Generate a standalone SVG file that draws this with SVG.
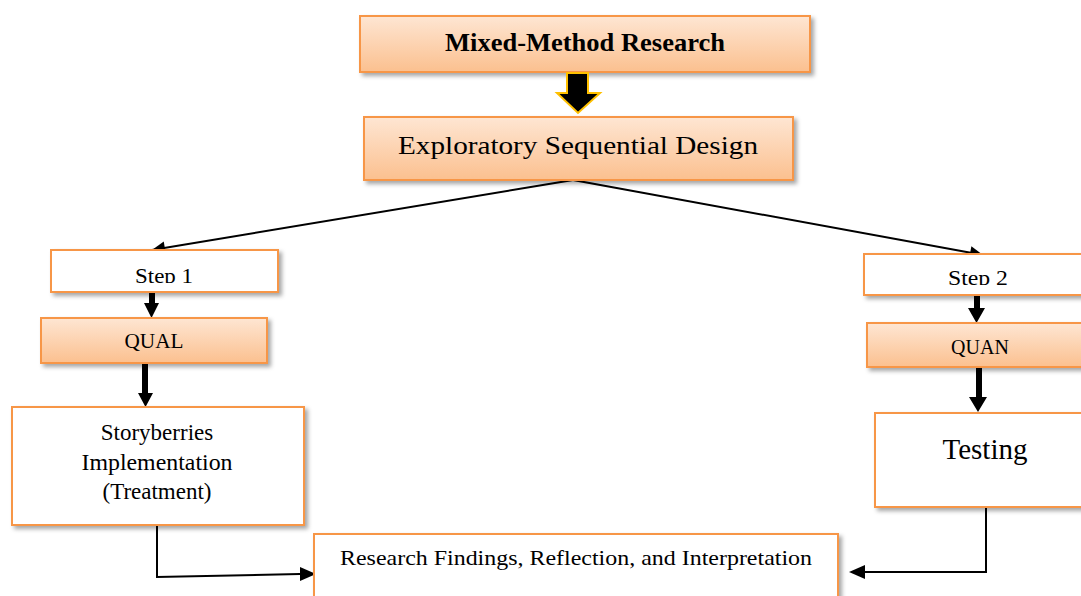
<svg xmlns="http://www.w3.org/2000/svg" width="1081" height="596" viewBox="0 0 1081 596">
<style>
.box{stroke:#F79646;stroke-width:2}
.orange{fill:url(#og)}
.white{fill:#ffffff}
.t{font-family:"Liberation Serif","Times New Roman",serif;fill:#000;text-anchor:middle}
.line{stroke:#000;stroke-width:2;fill:none}
.blk{fill:#000}
</style>
<defs>
<linearGradient id="og" x1="0" y1="0" x2="0" y2="1">
<stop offset="0" stop-color="#FEE6D3"/>
<stop offset="1" stop-color="#FBC08F"/>
</linearGradient>
<filter id="sh" x="-10%" y="-20%" width="125%" height="150%">
<feDropShadow dx="3" dy="3" stdDeviation="2" flood-color="#000" flood-opacity="0.35"/>
</filter>
<marker id="ahL" viewBox="0 0 10 10" refX="10" refY="5" markerWidth="17" markerHeight="13" markerUnits="userSpaceOnUse" orient="auto">
<path d="M0,0 L10,5 L0,10 z" fill="#000"/>
</marker>
<clipPath id="c1"><rect x="40" y="250" width="250" height="33"/></clipPath>
<clipPath id="c2"><rect x="860" y="254" width="221" height="31"/></clipPath>
</defs>

<g id="connectors">
<line class="line" x1="573" y1="180" x2="152" y2="250" marker-end="url(#ahL)"/>
<line class="line" x1="573" y1="180" x2="983" y2="255" marker-end="url(#ahL)"/>
<polygon class="blk" points="149,292 155,292 155,303 159,303 151.5,318 144,303 149,303"/>
<polygon class="blk" points="142,363 148,363 148,393 153,393 145.5,407 138,393 142,393"/>
<polygon class="blk" points="974,295 980,295 980,308 985,308 976.5,323 968,308 974,308"/>
<polygon class="blk" points="976,367 982,367 982,397 987,397 978,412 969,397 976,397"/>
<polyline class="line" points="157,525 157,577 300,574"/>
<polygon class="blk" points="316,574 300,567 300,581"/>
<polyline class="line" points="986,507 986,572 865,572"/>
<polygon class="blk" points="849,572 865,565 865,579"/>
</g>

<g id="mixed">
<rect class="box orange" x="360" y="16" width="450" height="56" filter="url(#sh)"/>
<text class="t" x="585" y="51" font-size="25" font-weight="bold" textLength="280" lengthAdjust="spacingAndGlyphs">Mixed-Method Research</text>
</g>

<g id="bigarrow">
<polygon points="567,73 588,73 588,93 600,93 578,113 557,93 567,93" fill="#000" stroke="#FFC000" stroke-width="2" stroke-linejoin="miter"/>
</g>

<g id="exploratory">
<rect class="box orange" x="364" y="117" width="429" height="63" filter="url(#sh)"/>
<text class="t" x="578" y="154" font-size="26" textLength="360" lengthAdjust="spacingAndGlyphs">Exploratory Sequential Design</text>
</g>

<g id="step1">
<rect class="box white" x="51" y="250" width="227" height="42" filter="url(#sh)"/>
<text class="t" x="164" y="283" font-size="22" clip-path="url(#c1)" textLength="58" lengthAdjust="spacingAndGlyphs">Step 1</text>
</g>

<g id="qual">
<rect class="box orange" x="41" y="318" width="226" height="45" filter="url(#sh)"/>
<text class="t" x="154" y="348" font-size="20" textLength="59" lengthAdjust="spacingAndGlyphs">QUAL</text>
</g>

<g id="storyberries">
<rect class="box white" x="12" y="407" width="292" height="118" filter="url(#sh)"/>
<text class="t" x="157" y="440" font-size="23">Storyberries</text>
<text class="t" x="157" y="470" font-size="23" textLength="151" lengthAdjust="spacingAndGlyphs">Implementation</text>
<text class="t" x="157" y="499" font-size="23">(Treatment)</text>
</g>

<g id="step2">
<rect class="box white" x="864" y="254" width="240" height="41" filter="url(#sh)"/>
<text class="t" x="978" y="285" font-size="22" clip-path="url(#c2)" textLength="60" lengthAdjust="spacingAndGlyphs">Step 2</text>
</g>

<g id="quan">
<rect class="box orange" x="867" y="323" width="240" height="44" filter="url(#sh)"/>
<text class="t" x="980" y="354" font-size="20">QUAN</text>
</g>

<g id="testing">
<rect class="box white" x="875" y="413" width="240" height="94" filter="url(#sh)"/>
<text class="t" x="985" y="459" font-size="29">Testing</text>
</g>

<g id="findings">
<rect class="box white" x="314" y="534" width="524" height="80" filter="url(#sh)"/>
<text class="t" x="576" y="565" font-size="21" textLength="472" lengthAdjust="spacingAndGlyphs">Research Findings, Reflection, and Interpretation</text>
</g>
</svg>
